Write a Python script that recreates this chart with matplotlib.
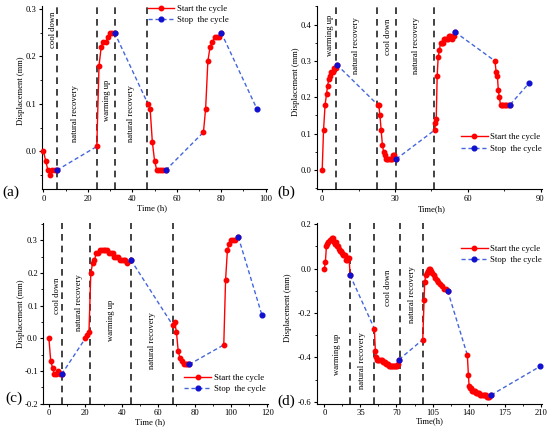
import matplotlib
matplotlib.use("Agg")
import matplotlib.pyplot as plt
import numpy as np
from matplotlib.lines import Line2D
from matplotlib.ticker import MultipleLocator

plt.rcParams['font.family'] = ['Liberation Serif', 'DejaVu Serif']
plt.rcParams['font.size'] = 6.2

# ---- panel (a) ----
a_t = [[0, 1, 2, 3, 4, 5, 6],
       [24, 25, 26, 27, 28, 29, 30, 31, 32],
       [47, 48, 49, 50, 51, 52, 53, 54, 55],
       [72, 73, 74, 75, 76, 77, 78, 79, 80]]
a_y = [[0.0, -0.02, -0.04, -0.05, -0.04, -0.04, -0.04],
       [0.01, 0.18, 0.22, 0.23, 0.23, 0.24, 0.25, 0.25, 0.25],
       [0.10, 0.09, 0.02, -0.02, -0.04, -0.04, -0.04, -0.04, -0.04],
       [0.04, 0.09, 0.19, 0.22, 0.23, 0.24, 0.24, 0.24, 0.25]]
a_end = (96, 0.09)
a_vlines = [6, 24, 32, 46.5]
a_texts = [(4.2, 0.255, "cool down"), (14.2, 0.08, "natural recovery"),
           (28.8, 0.108, "warming up"), (39.3, 0.08, "natural recovery")]

# ---- panel (b) ----
b_t = [[0, 0.55, 1.2, 1.8, 2.2, 2.7, 3.3, 3.8, 4.4, 4.9, 5.5, 6.0],
       [22.8, 23.3, 23.8, 24.3, 24.8, 25.3, 25.8, 26.3, 26.8, 27.3, 27.8, 28.3,
        28.8, 29.3, 29.8, 30.5],
       [46.4, 46.7, 47.0, 47.4, 47.8, 48.3, 48.8, 49.3, 49.8, 50.3, 50.8, 51.3,
        51.8, 52.3, 52.8, 53.3, 53.8, 54.2, 54.7],
       [71.2, 71.7, 72.2, 72.6, 73.0, 73.5, 74.0, 74.6, 75.2, 75.8, 76.4, 77.5]]
b_y = [[0.0, 0.11, 0.18, 0.21, 0.23, 0.25, 0.26, 0.27, 0.27, 0.28, 0.28, 0.29],
       [0.18, 0.18, 0.15, 0.11, 0.07, 0.05, 0.04, 0.03, 0.03, 0.03, 0.03, 0.03,
        0.03, 0.04, 0.04, 0.03],
       [0.11, 0.13, 0.14, 0.26, 0.31, 0.33, 0.35, 0.35, 0.35, 0.36, 0.36, 0.36,
        0.36, 0.37, 0.37, 0.36, 0.37, 0.37, 0.38],
       [0.30, 0.27, 0.26, 0.22, 0.20, 0.18, 0.18, 0.18, 0.18, 0.18, 0.18, 0.18]]
b_end = (85.4, 0.24)
b_vlines = [5.5, 22.5, 30.5, 46.2]
b_texts = [(3.4, 0.37, "warming up"), (14.1, 0.343, "natural recovery"),
           (27.2, 0.367, "cool down"), (38.5, 0.343, "natural recovery")]

# ---- panel (c) ----
c_t = [[0, 1, 2, 3, 4, 5, 6, 7],
       list(range(20, 44)) + [45],
       [68, 69, 70, 71, 72, 73, 74, 75, 76, 77],
       [96, 97, 98, 99, 100, 101, 102, 104]]
c_y = [[0.0, -0.07, -0.09, -0.11, -0.11, -0.10, -0.11, -0.11],
       [0.0, 0.01, 0.02, 0.20, 0.23, 0.24, 0.26, 0.26, 0.27, 0.27, 0.27, 0.27,
        0.27, 0.26, 0.26, 0.26, 0.25, 0.25, 0.25, 0.24, 0.24, 0.24, 0.24, 0.23,
        0.24],
       [0.04, 0.05, 0.02, -0.04, -0.06, -0.07, -0.08, -0.08, -0.08, -0.08],
       [-0.02, 0.18, 0.27, 0.29, 0.30, 0.30, 0.30, 0.31]]
c_end = (117, 0.07)
c_vlines = [7.3, 22.3, 44.9, 68.1]
c_texts = [(4.4, 0.13, "cool down"), (16.6, 0.109, "natural recovery"),
           (34.0, 0.055, "warming up"), (56.4, -0.008, "natural recovery")]

# ---- panel (d) ----
d_t = [list(range(0, 26)),
       [48.5 + i for i in range(25)],
       [95.5, 96.8, 97.4, 98.4, 99.7, 100.6, 101.9, 102.9, 103.8, 104.9, 106.1,
        107.4, 109.1, 110.7, 112.3, 113.9, 115.9, 117.8, 119.7],
       [138.8, 139.8, 140.5, 141.4, 142.4] + [143.5 + i for i in range(17)] + [161.8]]
d_y = [[0.0, 0.03, 0.10, 0.11, 0.12, 0.13, 0.13, 0.14, 0.14, 0.12, 0.11, 0.12,
        0.10, 0.10, 0.09, 0.08, 0.08, 0.07, 0.06, 0.06, 0.06, 0.04, 0.04, 0.05,
        0.05, -0.03],
       [-0.27, -0.37, -0.40, -0.41, -0.41, -0.41, -0.41, -0.41, -0.42, -0.42,
        -0.42, -0.43, -0.43, -0.43, -0.44, -0.44, -0.44, -0.44, -0.44, -0.44,
        -0.44, -0.44, -0.44, -0.43, -0.41],
       [-0.32, -0.14, -0.06, -0.03, -0.02, -0.01, 0.0, 0.0, -0.01, -0.02, -0.03,
        -0.04, -0.05, -0.06, -0.07, -0.08, -0.09, -0.09, -0.10],
       [-0.39, -0.48, -0.53, -0.54, -0.54, -0.55, -0.55, -0.55, -0.55, -0.56,
        -0.56, -0.56, -0.56, -0.57, -0.57, -0.57, -0.57, -0.57, -0.57, -0.58,
        -0.58, -0.58, -0.57]]
d_end = (209.7, -0.44)
d_vlines = [24.6, 47.9, 73.8, 95.5]
d_texts = [(12, -0.385, "warming up"), (36.9, -0.415, "natural recovery"),
           (61.5, -0.085, "cool down"), (84.8, -0.115, "natural recovery")]

RED = '#ff0000'
BLUE_LINE = '#4466dd'
BLUE_DOT = '#1010d0'

fig = plt.figure(figsize=(5.5, 4.32), dpi=100)

panels = [
    dict(rect=[0.077, 0.562, 0.408, 0.423], t=a_t, y=a_y, end=a_end, vl=a_vlines,
         tx=a_texts, xlim=(-0.5, 100.5), ylim=(-0.08, 0.305), xmaj=20, ymaj=0.1,
         xlabel="Time (h)", leg=(0.45, 0.955), tag="(a)", tagpos=(0.004, 0.555),
         ylc=(-0.077, 0.54), xlc=(0.49, -0.08)),
    dict(rect=[0.577, 0.562, 0.408, 0.423], t=b_t, y=b_y, end=b_end, vl=b_vlines,
         tx=b_texts, xlim=(-2, 90.5), ylim=(-0.053, 0.45), xmaj=30, ymaj=0.1,
         xlabel="Time(h)", leg=(0.621, 0.253), tag="(b)", tagpos=(0.504, 0.555),
         ylc=(-0.077, 0.59), xlc=(0.51, -0.085)),
    dict(rect=[0.079, 0.0655, 0.409, 0.4176], t=c_t, y=c_y, end=c_end, vl=c_vlines,
         tx=c_texts, xlim=(-3, 120.5), ylim=(-0.2, 0.352), xmaj=20, ymaj=0.1,
         xlabel="Time (h)", leg=(0.607, 0.11), tag="(c)", tagpos=(0.009, 0.079),
         ylc=(-0.081, 0.5), xlc=(0.474, -0.082)),
    dict(rect=[0.577, 0.0655, 0.408, 0.4176], t=d_t, y=d_y, end=d_end, vl=d_vlines,
         tx=d_texts, xlim=(-6.8, 211), ylim=(-0.609, 0.2045), xmaj=35, ymaj=0.2,
         xlabel="Time(h)", leg=(0.621, 0.826), tag="(d)", tagpos=(0.504, 0.072),
         ylc=(-0.111, 0.53), xlc=(0.5, -0.075)),
]

for p in panels:
    ax = fig.add_axes(p['rect'])
    segs_t, segs_y = p['t'], p['y']

    # dashed "stop" connections: end of a segment -> start of the next one
    bx, by = [], []
    for i in range(len(segs_t)):
        bx.append(segs_t[i][-1])
        by.append(segs_y[i][-1])
        if i + 1 < len(segs_t):
            bx.append(segs_t[i + 1][0])
            by.append(segs_y[i + 1][0])
        else:
            bx.append(p['end'][0])
            by.append(p['end'][1])
        bx.append(np.nan)
        by.append(np.nan)
    ax.plot(bx, by, '--', color=BLUE_LINE, lw=1.0, dashes=(3, 2), zorder=2)

    for st, sy in zip(segs_t, segs_y):
        ax.plot(st, sy, '-', color=RED, lw=1.0, marker='o', ms=3.2,
                zorder=3, clip_on=False)

    stops_x = [s[-1] for s in segs_t] + [p['end'][0]]
    stops_y = [s[-1] for s in segs_y] + [p['end'][1]]
    ax.plot(stops_x, stops_y, 'o', color=BLUE_DOT, ms=3.4, zorder=4, clip_on=False)

    for v in p['vl']:
        ax.axvline(v, color='#222222', ls='--', lw=1.2, dashes=(4, 3), zorder=1)

    for x, y, s in p['tx']:
        ax.text(x, y, s, rotation=90, ha='center', va='center')

    ax.set_xlim(*p['xlim'])
    ax.set_ylim(*p['ylim'])
    ax.xaxis.set_major_locator(MultipleLocator(p['xmaj']))
    ax.xaxis.set_minor_locator(MultipleLocator(p['xmaj'] / 2))
    ax.yaxis.set_major_locator(MultipleLocator(p['ymaj']))
    ax.yaxis.set_minor_locator(MultipleLocator(p['ymaj'] / 2))
    ax.yaxis.set_major_formatter(plt.FormatStrFormatter('%.1f'))
    ax.spines['top'].set_visible(False)
    ax.spines['right'].set_visible(False)
    ax.tick_params(which='major', direction='out', length=2.5, width=0.8, pad=1.5)
    ax.tick_params(which='minor', direction='out', length=1.5, width=0.6)
    ax.set_xlabel(p['xlabel'])
    ax.set_ylabel("Displacement (mm)")
    ax.yaxis.set_label_coords(*p['ylc'])
    ax.xaxis.set_label_coords(*p['xlc'])

    handles = [Line2D([], [], color=RED, lw=1.0, marker='o', ms=3.2),
               Line2D([], [], color=BLUE_LINE, lw=1.0, ls='--', dashes=(3, 2),
                      marker='o', ms=3.4, markerfacecolor=BLUE_DOT,
                      markeredgecolor=BLUE_DOT)]
    ax.legend(handles, ["Start the cycle", "Stop  the cycle"], loc='center left',
              bbox_to_anchor=p['leg'], frameon=False, borderpad=0,
              handlelength=3.1, handletextpad=0.3, labelspacing=0.35)

    fig.text(p['tagpos'][0], p['tagpos'][1], p['tag'], fontsize=11,
             ha='left', va='center')

fig.savefig("out.png", dpi=100)
